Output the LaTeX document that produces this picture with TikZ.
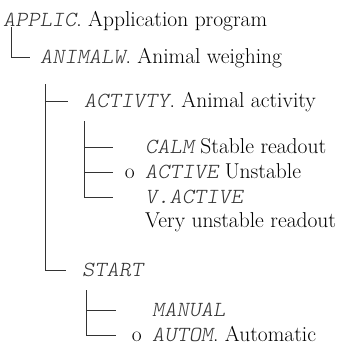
\documentclass[tikz,border=0pt]{standalone}
\usepackage{fontspec}
\usepackage{xcolor}
\usetikzlibrary{positioning, calc}

\newfontfamily\lcdfont{lmmonolt10-oblique.otf}[FakeStretch=1.08]
\newcommand{\lcd}[1]{{\lcdfont\color{black!80}#1}}

\begin{document}
\begin{tikzpicture}[
  x=1pt, y=-1pt,
  every node/.style={font=\fontsize{21.5}{24}\selectfont},
  entry/.style={anchor=west, inner sep=0pt, text height=14pt, text depth=0pt},
  tree/.style={line width=0.9pt, color=black!80}
]
\useasboundingbox (0,0) rectangle (360,347);

%% ── Menu entries ─────────────────────────────────────────────
\node[entry] (applic)   at (3,20)    {\lcd{APPLIC}. Application program};
\node[entry] (animalw)  at (40,57)   {\lcd{ANIMALW}. Animal weighing};
\node[entry] (activty)  at (84,101)  {\lcd{ACTIVTY}. Animal activity};
\node[entry] (calm)     at (145,147) {\lcd{CALM} Stable readout};
\node[entry] (active)   at (145,172) {\lcd{ACTIVE} Unstable};
\node[entry, left=10pt of active] (oactive) {o};
\node[entry] (vactive)  at (145,197) {\lcd{V.ACTIVE}};
\node[entry] (vactdesc) at (145,221) {Very unstable readout};
\node[entry] (start)    at (82,270)  {\lcd{START}};
\node[entry] (manual)   at (152,310) {\lcd{MANUAL}};
\node[entry] (autom)    at (152,335) {\lcd{AUTOM}. Automatic};
\node[entry, left=10pt of autom] (oautom) {o};

%% ── Tree lines ───────────────────────────────────────────────
\coordinate (l1) at ([xshift=8pt]applic.south west);
\draw[tree] (l1) |- ([xshift=-10pt]animalw.west);

\coordinate (l2) at ([xshift=5pt,yshift=-20pt]animalw.south west);
\draw[tree] (l2) |- ([xshift=-16pt]start.west);
\draw[tree] (l2 |- activty.west) -- ([xshift=-16pt]activty.west);

\coordinate (l3) at ([yshift=-13pt]activty.south west);
\draw[tree] (l3) |- ([xshift=-32pt]vactive.west);
\draw[tree] (l3 |- calm.west) -- ([xshift=-32pt]calm.west);
\draw[tree] (l3 |- active.west) -- ([xshift=-32pt]active.west);

\coordinate (l4) at ([xshift=4pt,yshift=-13pt]start.south west);
\draw[tree] (l4) |- ([xshift=-36pt]autom.west);
\draw[tree] (l4 |- manual.west) -- ([xshift=-36pt]manual.west);

\end{tikzpicture}
\end{document}
